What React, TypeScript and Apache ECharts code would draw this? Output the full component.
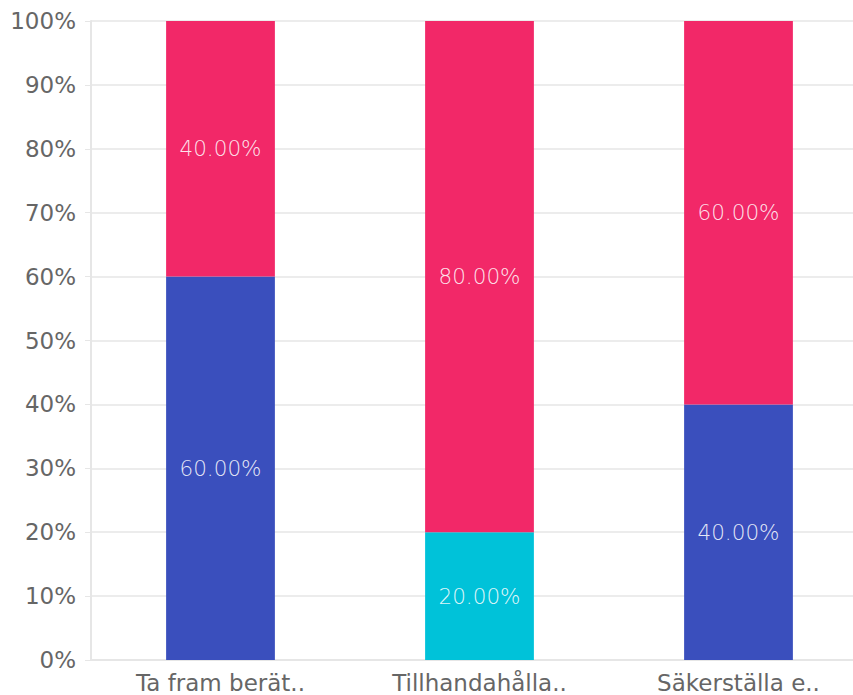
import React, { useEffect, useRef } from "react";
import * as echarts from "echarts";

const categories = ["Ta fram berät..", "Tillhandahålla..", "Säkerställa e.."];
const seriesNames = ["Serie A", "Serie B", "Serie C"];
const blueValues = [60, 0, 40];
const cyanValues = [0, 20, 0];
const pinkValues = [40, 80, 60];
const colors = ["#3a4fbd", "#00c2d9", "#f22868"];
const yTicks = [0, 10, 20, 30, 40, 50, 60, 70, 80, 90, 100];

export default function App() {
  const ref = useRef<HTMLDivElement>(null);
  useEffect(() => {
    if (!ref.current) return;
    const chart = echarts.init(ref.current, null, { renderer: "svg" });
    const font = "'DejaVu Sans', sans-serif";
    const label = {
      show: true,
      position: "inside",
      color: "rgba(255,255,255,0.88)",
      fontSize: 21.5,
      fontFamily: "'DejaVu Sans ExtraLight', 'DejaVu Sans', sans-serif",
      fontWeight: 200,
      formatter: (p: any) => (p.value > 0 ? p.value.toFixed(2) + "%" : ""),
    };
    const mk = (name: string, data: number[], color: string) => ({
      name,
      type: "bar",
      stack: "total",
      data,
      barWidth: "42%",
      itemStyle: { color },
      label,
    });
    chart.setOption({
      animation: false,
      grid: { left: 91, right: 2, top: 21, bottom: 35, containLabel: false },
      xAxis: {
        type: "category",
        data: categories,
        axisLine: { lineStyle: { color: "#e6e6e6", width: 2 } },
        axisTick: { alignWithLabel: true, lineStyle: { color: "#e6e6e6" }, length: 4 },
        axisLabel: { color: "#666", fontSize: 23, fontFamily: font, margin: 11 },
      },
      yAxis: {
        type: "value",
        min: yTicks[0],
        max: yTicks[yTicks.length - 1],
        interval: 10,
        axisLine: { show: true, lineStyle: { color: "#e6e6e6", width: 2 } },
        axisTick: { show: true, length: 6, lineStyle: { color: "#e6e6e6" } },
        splitLine: { lineStyle: { color: "#ececec", width: 2 } },
        axisLabel: {
          color: "#666",
          fontSize: 23,
          fontFamily: font,
          margin: 15,
          formatter: (v: number) => v + "%",
        },
      },
      series: [
        mk(seriesNames[0], blueValues, colors[0]),
        mk(seriesNames[1], cyanValues, colors[1]),
        mk(seriesNames[2], pinkValues, colors[2]),
      ],
    });
    return () => chart.dispose();
  }, []);
  return (
    <div style={{ position: "fixed", left: 0, top: 0, width: 853, height: 695, overflow: "hidden", background: "#fff" }}>
      <div ref={ref} style={{ width: 870, height: 695 }} />
    </div>
  );
}
